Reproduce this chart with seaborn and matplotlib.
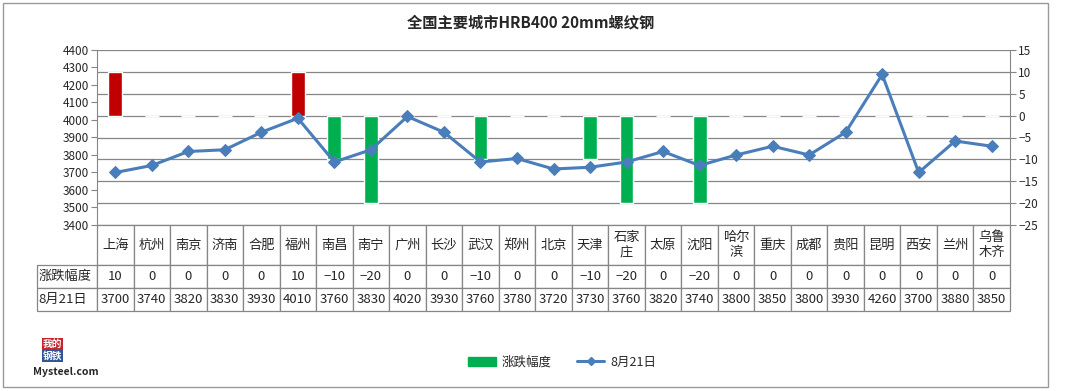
import numpy as np
import matplotlib
matplotlib.use("Agg")
import matplotlib.pyplot as plt
from matplotlib.patches import Patch, Rectangle
from matplotlib.lines import Line2D
import seaborn as sns

# data
cities = ["上海", "杭州", "南京", "济南", "合肥", "福州", "南昌", "南宁", "广州", "长沙",
          "武汉", "郑州", "北京", "天津", "石家\n庄", "太原", "沈阳", "哈尔\n滨", "重庆",
          "成都", "贵阳", "昆明", "西安", "兰州", "乌鲁\n木齐"]
change = [10, 0, 0, 0, 0, 10, -10, -20, 0, 0, -10, 0, 0, -10, -20, 0, -20, 0, 0, 0, 0, 0, 0, 0, 0]
price = [3700, 3740, 3820, 3830, 3930, 4010, 3760, 3830, 4020, 3930, 3760, 3780, 3720, 3730,
         3760, 3820, 3740, 3800, 3850, 3800, 3930, 4260, 3700, 3880, 3850]
change_label = "涨跌幅度"
price_label = "8月21日"
title = "全国主要城市HRB400 20mm螺纹钢"

sns.set_style("white")
plt.rcParams['font.family'] = ['Noto Sans CJK SC', 'DejaVu Sans']

LINE = "#4a7ebb"
RED = "#c00000"
GREEN = "#00b050"
GRID = "#868686"

W, H = 1067, 391
fig = plt.figure(figsize=(W / 100, H / 100), dpi=100)

x0, x1, ytop, ybot = 97, 1010, 50, 225
ax = fig.add_axes([x0 / W, 1 - ybot / H, (x1 - x0) / W, (ybot - ytop) / H])
ax2 = ax.twinx()

# bars on the right axis
idx = np.arange(len(cities))
kind = ["up" if c > 0 else ("down" if c < 0 else "flat") for c in change]
sns.barplot(x=idx, y=change, hue=kind, palette={"up": RED, "down": GREEN, "flat": "#ebebeb"},
            width=0.38, legend=False, ax=ax2, saturation=1, dodge=False)
ax2.set_ylim(-25, 15)
ax2.set_yticks(range(-25, 16, 5))
ax2.grid(axis="y", color=GRID, linewidth=0.9)
ax2.set_axisbelow(True)

# price line on the left axis
sns.lineplot(x=idx, y=price, ax=ax, color=LINE, linewidth=2.2, marker="D",
             markersize=6.5, markeredgecolor=LINE)
ax.set_zorder(ax2.get_zorder() + 1)
ax.patch.set_visible(False)
ax.set_ylim(3400, 4400)
ax.set_yticks(range(3400, 4401, 100))
ax.set_xlim(-0.5, len(cities) - 0.5)

for a in (ax, ax2):
    a.set_xlabel("")
    a.set_ylabel("")
    a.tick_params(axis="x", bottom=False, labelbottom=False)
    for s in a.spines.values():
        s.set_visible(False)
ax.spines["left"].set_visible(True)
ax.spines["left"].set_color(GRID)
ax2.spines["right"].set_visible(True)
ax2.spines["right"].set_color(GRID)
ax.tick_params(axis="y", left=True, length=4, color=GRID, labelsize=8.5, pad=2)
ax2.tick_params(axis="y", right=True, length=4, color=GRID, labelsize=8.5, pad=2)

# data table under the plot
fmt = lambda v: str(v).replace("-", "−")
cell_text = [[""] + cities,
             [change_label] + [fmt(v) for v in change],
             [price_label] + [str(v) for v in price]]
lab_w = 60
col_w = (x1 - x0) / len(cities)
tab_h = 311 - ybot
tbl = ax.table(cellText=cell_text, colWidths=[lab_w] + [col_w] * len(cities),
               cellLoc="center",
               bbox=[-lab_w / (x1 - x0), -tab_h / (ybot - ytop), 1 + lab_w / (x1 - x0), tab_h / (ybot - ytop)])
tbl.auto_set_font_size(False)
tbl.set_fontsize(9.5)
for (r, c), cell in tbl.get_celld().items():
    cell.set_edgecolor(GRID)
    cell.set_linewidth(0.9)
    cell.set_height(40 if r == 0 else 23)
    if r == 0 and c == 0:
        cell.visible_edges = ""
    if c == 0:
        cell.set_text_props(ha="left")
        cell.PAD = 0.03

# title and legend
fig.text(0.497, 1 - 22 / H, title, ha="center", va="center", fontsize=11, fontweight="bold")
handles = [Patch(color=GREEN, label=change_label),
           Line2D([0], [0], color=LINE, linewidth=2.2, marker="D", markersize=4, label=price_label)]
fig.legend(handles=handles, loc="center", bbox_to_anchor=(0.527, 1 - 362 / H), ncol=2,
           frameon=False, fontsize=9, handlelength=2.2, columnspacing=2.0, handletextpad=0.5)

# logo
fig.text(43 / W, 1 - 344 / H, "我的", color="white", fontsize=7, fontweight="bold", ha="left", va="center",
         bbox=dict(facecolor="#c8232c", edgecolor="none", pad=0.4))
fig.text(43 / W, 1 - 356 / H, "钢铁", color="white", fontsize=7, fontweight="bold", ha="left", va="center",
         bbox=dict(facecolor="#2f5597", edgecolor="none", pad=0.4))
fig.text(33 / W, 1 - 372 / H, "Mysteel.com", fontsize=7.5, fontweight="bold", ha="left", va="center")

# chart border
fig.patches.append(Rectangle((3 / W, 1 - 387 / H), 1045 / W, 384 / H, transform=fig.transFigure,
                             fill=False, edgecolor="#999999", linewidth=1))

fig.savefig("out.png", dpi=100)
